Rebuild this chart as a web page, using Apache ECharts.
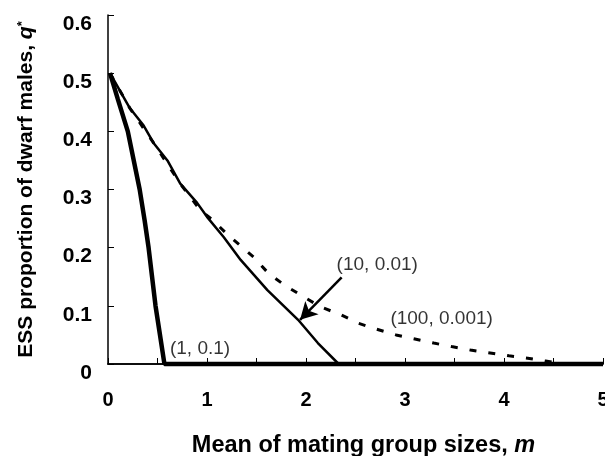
<!DOCTYPE html>
<html>
<head>
<meta charset="utf-8">
<script src="https://cdn.jsdelivr.net/npm/echarts@6/dist/echarts.min.js"></script>
<style>html,body{margin:0;padding:0;background:#fff}#c{width:605px;height:456px}</style>
</head>
<body>
<div id="c"></div>
<script>
// Curve (1, 0.1)
const m1 = [0.02, 0.1, 0.2, 0.32, 0.37, 0.41, 0.445, 0.48, 0.525, 0.57, 5];
const q1 = [0.5, 0.455, 0.4, 0.3, 0.247, 0.2, 0.15, 0.1, 0.05, 0, 0];
// Curve (10, 0.01)
const m2 = [0.02, 0.22, 0.36, 0.46, 0.6, 0.73, 0.9, 1.0, 1.17, 1.34, 1.61, 1.92, 2.12, 2.33, 5];
const q2 = [0.5, 0.44, 0.41, 0.38, 0.35, 0.31, 0.277, 0.253, 0.218, 0.179, 0.127, 0.076, 0.036, 0, 0];
// Curve (100, 0.001)
const m3 = [0.02, 0.22, 0.46, 0.73, 0.93, 1.06, 1.21, 1.47, 1.62, 1.78, 1.98, 2.15, 2.36, 2.53, 2.71, 2.91, 3.1, 3.29, 3.47, 3.66, 3.86, 4.05, 4.24, 4.42, 4.6];
const q3 = [0.5, 0.44, 0.38, 0.31, 0.265, 0.247, 0.222, 0.184, 0.156, 0.136, 0.115, 0.098, 0.084, 0.07, 0.06, 0.05, 0.043, 0.036, 0.03, 0.024, 0.019, 0.014, 0.01, 0.005, 0];
// Annotation labels
const labelTexts = ['(1, 0.1)', '(10, 0.01)', '(100, 0.001)'];
const labelX = [0.93, 2.72, 3.37];
const labelY = [0.026, 0.17, 0.077];
// Arrow from label to curve (10, 0.01)
const arrowFrom = [2.36, 0.149];
const arrowTo = [1.94, 0.076];

const FONT = 'Liberation Sans, Arial, sans-serif';
const pairs = (xs, ys) => xs.map((x, i) => [x, ys[i]]);

const chart = echarts.init(document.getElementById('c'), null, {renderer: 'canvas'});
chart.setOption({
  animation: false,
  backgroundColor: '#fff',
  grid: {left: 108, right: 2, top: 15, bottom: 92, containLabel: false, outerBoundsMode: 'none'},
  xAxis: [{
    type: 'value', min: 0, max: 5, interval: 0.5,
    name: '{b|Mean of mating group sizes, }{i|m}',
    nameLocation: 'middle', nameGap: 70,
    nameTextStyle: {rich: {
      b: {fontFamily: FONT, fontWeight: 'bold', fontSize: 23.5, color: '#000', padding: [0, 0, 0, 16]},
      i: {fontFamily: FONT, fontWeight: 'bold', fontStyle: 'italic', fontSize: 23.5, color: '#000'}
    }},
    axisLine: {show: true, onZero: false, lineStyle: {color: '#000', width: 1.5}},
    axisTick: {show: true, inside: true, length: 6, lineStyle: {color: '#000', width: 1}},
    axisLabel: {
      margin: 26, fontFamily: FONT, fontWeight: 'bold', fontSize: 20, color: '#000',
      formatter: v => (Math.abs(v - Math.round(v)) < 1e-9 ? String(Math.round(v)) : '')
    },
    splitLine: {show: false}
  }, {
    type: 'value', min: 0, max: 5, position: 'top',
    axisLine: {show: true, lineStyle: {color: '#000', width: 1.5}},
    axisTick: {show: false}, axisLabel: {show: false}, splitLine: {show: false}
  }],
  yAxis: {
    type: 'value', min: 0, max: 0.6, interval: 0.1,
    name: '{b|ESS proportion of dwarf males, }{i|q}{s|*}',
    nameLocation: 'middle', nameGap: 71,
    nameTextStyle: {rich: {
      b: {fontFamily: FONT, fontWeight: 'bold', fontSize: 21, color: '#000'},
      i: {fontFamily: FONT, fontWeight: 'bold', fontStyle: 'italic', fontSize: 21, color: '#000'},
      s: {fontFamily: FONT, fontWeight: 'bold', fontSize: 13, color: '#000', verticalAlign: 'top', padding: [0, 0, 8, 0]}
    }},
    axisLine: {show: true, lineStyle: {color: '#000', width: 1.5}},
    axisTick: {show: true, inside: true, length: 6, lineStyle: {color: '#000', width: 1}},
    axisLabel: {
      margin: 16, verticalAlign: 'top', lineHeight: 18,
      fontFamily: FONT, fontWeight: 'bold', fontSize: 21, color: '#000',
      formatter: v => (v === 0 ? '0' : v.toFixed(1))
    },
    splitLine: {show: false}
  },
  series: [
    {
      name: '(100, 0.001)', type: 'line', data: pairs(m3, q3), symbol: 'none', clip: false,
      lineStyle: {color: '#000', width: 3, type: [7, 12]}, z: 2
    },
    {
      name: '(10, 0.01)', type: 'line', data: pairs(m2, q2), symbol: 'none', clip: false,
      lineStyle: {color: '#000', width: 2.5}, z: 3,
      markLine: {
        silent: true, symbol: ['none', 'arrow'], symbolSize: [14, 17],
        lineStyle: {color: '#000', width: 2.5, type: 'solid'},
        label: {show: false},
        data: [[{coord: arrowFrom}, {coord: arrowTo}]]
      }
    },
    {
      name: '(1, 0.1)', type: 'line', data: pairs(m1, q1), symbol: 'none', clip: false,
      lineStyle: {color: '#000', width: 4.5}, z: 4
    },
    {
      name: 'labels', type: 'scatter', symbolSize: 0, z: 5,
      data: labelTexts.map((t, i) => ({name: t, value: [labelX[i], labelY[i]]})),
      label: {
        show: true, position: 'inside', formatter: p => p.name,
        fontFamily: FONT, fontSize: 19, color: '#000'
      }
    }
  ]
});
</script>
</body>
</html>
